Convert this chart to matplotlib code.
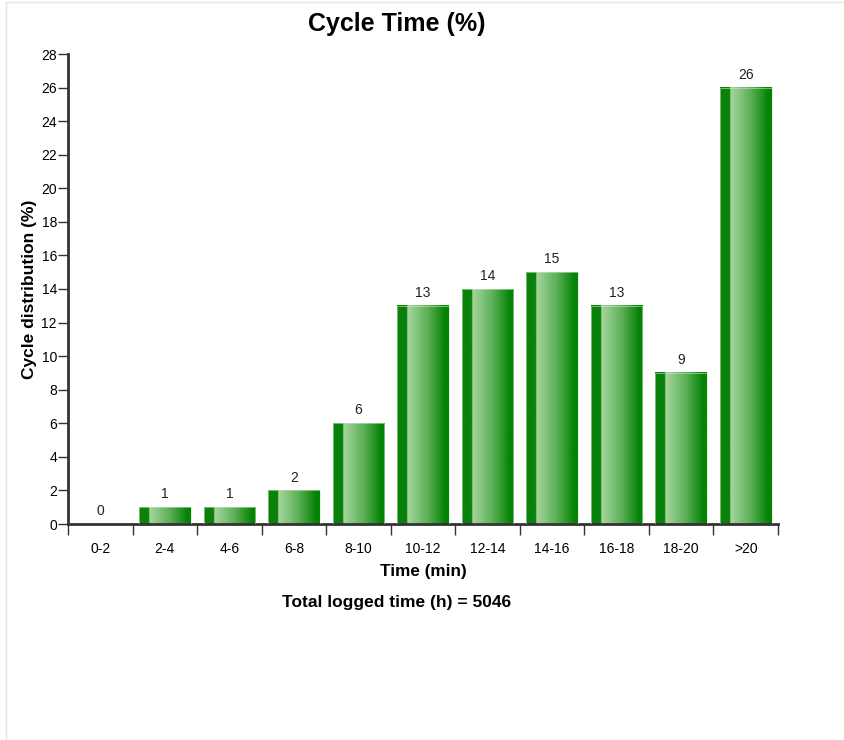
import numpy as np
import matplotlib.pyplot as plt
from matplotlib.colors import LinearSegmentedColormap
from matplotlib.patches import Rectangle

plt.rcParams['font.family'] = ['Liberation Sans', 'DejaVu Sans']

categories = ['0-2', '2-4', '4-6', '6-8', '8-10', '10-12', '12-14', '14-16', '16-18', '18-20', '>20']
values = [0, 1, 1, 2, 6, 13, 14, 15, 13, 9, 26]
total_hours = 5046

# horizontal gradient used inside each bar
grad = LinearSegmentedColormap.from_list(
    'bar', [(0.0, '#0a820a'), (0.19, '#0a820a'), (0.2, '#a6d6a0'),
            (0.6, '#5aaf55'), (0.93, '#048304'), (1.0, '#048304')])
strip = np.linspace(0, 1, 200).reshape(1, -1)

fig = plt.figure(figsize=(8.44, 7.4), dpi=100)
fig.patches.append(Rectangle((6 / 844, -0.1), 1.2, 1.1 - 2 / 740, transform=fig.transFigure,
                             fill=False, edgecolor='#e4e4e4', linewidth=1))
ax = fig.add_axes([68 / 844, 1 - 524 / 740, 710 / 844, 470 / 740])

x = np.arange(len(categories))
width = 0.8
for xi, v in zip(x, values):
    if v > 0:
        ax.imshow(strip, cmap=grad, aspect='auto', interpolation='bilinear',
                  extent=(xi - width / 2, xi + width / 2, 0, v), zorder=2)
        ax.add_patch(Rectangle((xi - width / 2, 0), width, v, fill=False,
                               edgecolor='#cde6ca', linewidth=0.4, zorder=3))
    ax.text(xi, v + 0.35, str(v), ha='center', va='bottom', fontsize=10, color='#222222')

ax.set_xlim(-0.5, len(categories) - 0.5)
ax.set_ylim(0, 28)
ax.set_yticks(np.arange(0, 29, 2))
ax.set_xticks(x)
ax.set_xticklabels(categories, fontsize=10)
ax.set_xticks(np.arange(-0.5, len(categories)), minor=True)
ax.tick_params(axis='x', which='major', length=0, pad=13)
ax.tick_params(axis='x', which='minor', length=8, width=1, color='#333333', direction='out')
ax.tick_params(axis='y', labelsize=10, length=7, width=1, color='#333333', pad=1)

for s in ['top', 'right']:
    ax.spines[s].set_visible(False)
for s in ['left', 'bottom']:
    ax.spines[s].set_color('#333333')
    ax.spines[s].set_linewidth(2)

ax.set_xlabel('Time (min)', fontsize=12.3, fontweight='bold', labelpad=6)
ax.set_ylabel('Cycle distribution (%)', fontsize=12.5, fontweight='bold', labelpad=3)
fig.text(397 / 844, 1 - 24 / 740, 'Cycle Time (%)', ha='center', va='center', fontsize=18, fontweight='bold')
fig.text(397 / 844, 1 - 602 / 740, 'Total logged time (h) = ' + str(total_hours), ha='center', va='center',
         fontsize=12.5, fontweight='bold')

fig.savefig('out.png', dpi=100)
